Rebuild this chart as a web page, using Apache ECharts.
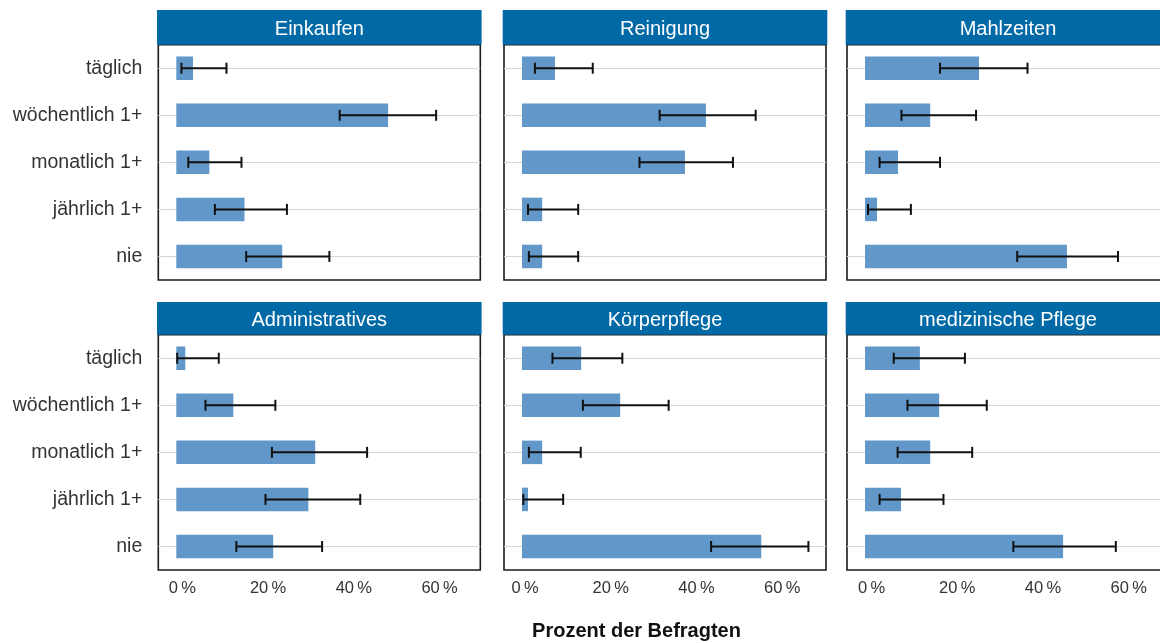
<!DOCTYPE html>
<html>
<head>
<meta charset="utf-8">
<script src="https://cdn.jsdelivr.net/npm/echarts@6/dist/echarts.min.js"></script>
<style>
  html, body { margin: 0; padding: 0; background: #ffffff; }
  #chart { width: 1160px; height: 643px; }
</style>
</head>
<body>
<div id="chart"></div>
<script>
// Frequency categories (top to bottom)
const categories = ['täglich', 'wöchentlich 1+', 'monatlich 1+', 'jährlich 1+', 'nie'];

// Panel titles, in reading order
const panelTitles = ['Einkaufen', 'Reinigung', 'Mahlzeiten', 'Administratives', 'Körperpflege', 'medizinische Pflege'];

// Share of respondents (%) with lower / upper confidence bounds
const einkaufenShare = [3.9, 49.4, 7.7, 15.9, 24.7];
const einkaufenLow   = [1.2, 38.1, 2.8, 9.0, 16.3];
const einkaufenHigh  = [11.7, 60.6, 15.2, 25.8, 35.7];

const reinigungShare = [7.7, 42.9, 38.0, 4.7, 4.7];
const reinigungLow   = [3.0, 32.1, 27.4, 1.4, 1.6];
const reinigungHigh  = [16.5, 54.5, 49.2, 13.1, 13.1];

const mahlzeitenShare = [26.6, 15.2, 7.7, 2.8, 47.1];
const mahlzeitenLow   = [17.5, 8.5, 3.4, 0.7, 35.5];
const mahlzeitenHigh  = [37.9, 25.9, 17.5, 10.7, 59.0];

const adminShare = [2.1, 13.3, 32.4, 30.8, 22.6];
const adminLow   = [0.2, 6.8, 22.3, 20.8, 14.0];
const adminHigh  = [9.9, 23.1, 44.5, 42.9, 34.0];

const koerperShare = [13.8, 22.9, 4.7, 1.4, 55.8];
const koerperLow   = [7.1, 14.2, 1.6, 0.3, 44.1];
const koerperHigh  = [23.4, 34.2, 13.7, 9.6, 66.8];

const medizinShare = [12.8, 17.3, 15.2, 8.4, 46.2];
const medizinLow   = [6.7, 9.9, 7.6, 3.4, 34.6];
const medizinHigh  = [23.3, 28.4, 25.0, 18.3, 58.5];

// Percent tick labels on the horizontal axis
const tickValues = [0, 20, 40, 60];
const axisTitle = 'Prozent der Befragten';

const panelData = [
  [einkaufenShare, einkaufenLow, einkaufenHigh],
  [reinigungShare, reinigungLow, reinigungHigh],
  [mahlzeitenShare, mahlzeitenLow, mahlzeitenHigh],
  [adminShare, adminLow, adminHigh],
  [koerperShare, koerperLow, koerperHigh],
  [medizinShare, medizinLow, medizinHigh]
];

// Layout of the 3 x 2 facet grid
const colLeft = [158.3, 504, 847];
const colWidth = 322;
const rowTop = [44.7, 334.7];
const rowHeight = 235.3;
const stripTop = [10, 302];
const labelShift = [12, 6, 13];

const BAR = '#6198c9';
const STRIP = '#0069a6';
const GRIDLINE = '#d6d6d6';
const FONT = '"Liberation Sans", Arial, Helvetica, sans-serif';

const grids = [], xAxes = [], yAxes = [], series = [], graphics = [];

panelTitles.forEach((title, i) => {
  const col = i % 3, row = Math.floor(i / 3);
  const [share, low, high] = panelData[i];

  grids.push({
    left: colLeft[col], top: rowTop[row], width: colWidth, height: rowHeight,
    show: true, backgroundColor: '#ffffff', borderColor: '#1a1a1a', borderWidth: 1.6,
    containLabel: false, outerBoundsMode: 'none'
  });

  xAxes.push({
    type: 'value', gridIndex: i, min: -4.2, max: 70.9,
    axisLine: { show: false }, axisTick: { show: false },
    splitLine: { show: false },
    axisLabel: {
      show: row === 1,
      customValues: tickValues,
      formatter: v => v + '\u2009%',
      color: '#333333', fontSize: 16.5, fontFamily: FONT, margin: 10,
      padding: [0, 0, 0, labelShift[col]]
    }
  });

  yAxes.push({
    type: 'category', gridIndex: i, data: categories, inverse: true,
    axisLine: { show: false },
    axisTick: { show: col === 0, alignWithLabel: true, length: 8, lineStyle: { color: GRIDLINE, width: 1.2 } },
    axisLabel: { show: col === 0, color: '#333333', fontSize: 19.5, fontFamily: FONT, margin: 16 },
    splitLine: { show: true, alignWithLabel: true, lineStyle: { color: GRIDLINE, width: 1.2 } }
  });

  series.push({
    type: 'bar', xAxisIndex: i, yAxisIndex: i, data: share,
    barWidth: '50%', itemStyle: { color: BAR }, silent: true, z: 2
  });

  series.push({
    type: 'custom', xAxisIndex: i, yAxisIndex: i, z: 3, silent: true,
    encode: { x: [0, 1], y: 2 },
    data: share.map((_, k) => [low[k], high[k], k]),
    renderItem: (params, api) => {
      const k = api.value(2);
      const a = api.coord([api.value(0), k]);
      const b = api.coord([api.value(1), k]);
      const cap = 5.5;
      const st = { stroke: '#111111', lineWidth: 2 };
      return {
        type: 'group',
        children: [
          { type: 'line', shape: { x1: a[0], y1: a[1], x2: b[0], y2: b[1] }, style: st },
          { type: 'line', shape: { x1: a[0], y1: a[1] - cap, x2: a[0], y2: a[1] + cap }, style: st },
          { type: 'line', shape: { x1: b[0], y1: b[1] - cap, x2: b[0], y2: b[1] + cap }, style: st }
        ]
      };
    }
  });

  // Facet strip with the panel title
  const sx = colLeft[col] - 1.3;
  const sw = col === 2 ? 1160 - sx : colWidth + 2.6;
  const sh = rowTop[row] - stripTop[row];
  graphics.push({
    type: 'rect', z: 100, silent: true,
    shape: { x: sx, y: stripTop[row], width: sw, height: sh },
    style: { fill: STRIP }
  });
  graphics.push({
    type: 'text', z: 101, silent: true,
    x: colLeft[col] + colWidth / 2, y: stripTop[row] + sh / 2 + 2.5,
    style: {
      text: title, fill: '#ffffff', font: '20px ' + FONT,
      align: 'center', verticalAlign: 'middle'
    }
  });
});

graphics.push({
  type: 'text', z: 101, silent: true, x: 636.5, y: 631.5,
  style: {
    text: axisTitle, fill: '#111111', font: 'bold 20px ' + FONT,
    align: 'center', verticalAlign: 'middle'
  }
});

const chart = echarts.init(document.getElementById('chart'), null, { renderer: 'canvas' });
chart.setOption({
  animation: false,
  backgroundColor: '#ffffff',
  grid: grids,
  xAxis: xAxes,
  yAxis: yAxes,
  series: series,
  graphic: { elements: graphics }
});
</script>
</body>
</html>
